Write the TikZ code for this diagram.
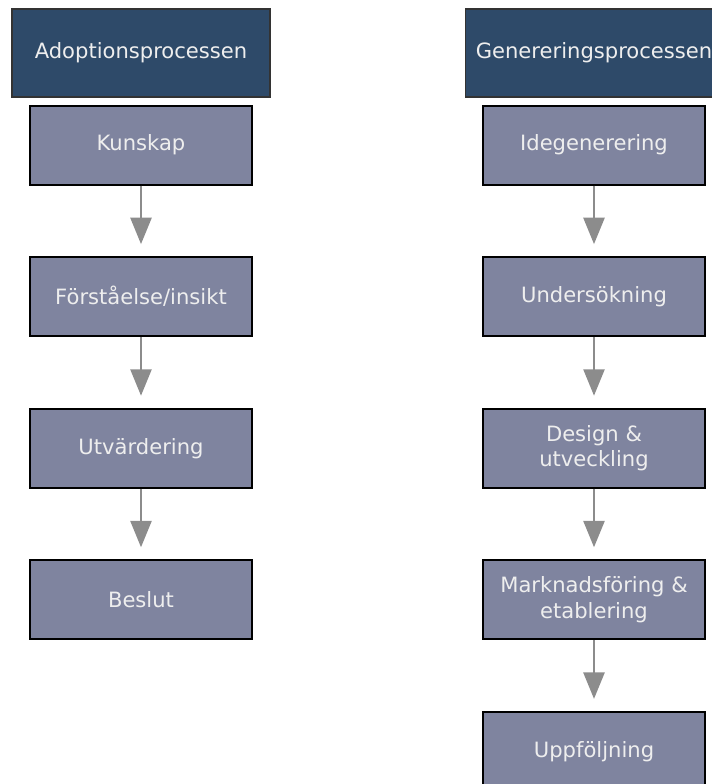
\documentclass[tikz,border=0pt]{standalone}
\usepackage{fontspec}
\setmainfont{DejaVu Sans}
\usetikzlibrary{arrows.meta,positioning}
\definecolor{hdr}{HTML}{2E4A69}
\definecolor{stage}{HTML}{7F849F}
\definecolor{arr}{HTML}{8C8C8C}
\definecolor{txt}{HTML}{EEEEEE}

\begin{document}
\begin{tikzpicture}[x=0.02cm, y=-0.02cm, node distance=1.41cm,
  h/.style={draw=black!80, line width=0.6pt, fill=hdr, text=txt, minimum width=5.16cm, minimum height=1.76cm,
    inner sep=0pt, font=\fontsize{12}{14.5}\selectfont},
  b/.style={draw=black, line width=1.2pt, fill=stage, text=txt, minimum width=4.44cm, minimum height=1.58cm,
    inner sep=0pt, align=center, font=\fontsize{12}{14.5}\selectfont},
  e/.style={-{Triangle[width=12pt,length=15pt]}, line width=1.2pt, draw=arr, shorten >=0.24cm}]
\useasboundingbox (0,0) rectangle (712,784);
\clip (0,0) rectangle (712,784);
% adoption column
\node[h] (adop) at (141,53) {Adoptionsprocessen};
\node[b, below=0.14cm of adop] (kun) {Kunskap};
\node[b, below=of kun] (forst) {Förståelse/insikt};
\node[b, below=of forst] (utv) {Utvärdering};
\node[b, below=of utv] (bes) {Beslut};
\draw[e] (kun) -- (forst); \draw[e] (forst) -- (utv); \draw[e] (utv) -- (bes);
% generation column
\node[h] (gen) at (594,53) {Genereringsprocessen};
\node[b, below=0.14cm of gen] (ide) {Idegenerering};
\node[b, below=of ide] (und) {Undersökning};
\node[b, below=of und] (des) {Design \&\\ utveckling};
\node[b, below=of des] (mark) {Marknadsföring \&\\ etablering};
\node[b, below=of mark] (upp) {Uppföljning};
\draw[e] (ide) -- (und); \draw[e] (und) -- (des); \draw[e] (des) -- (mark); \draw[e] (mark) -- (upp);
\end{tikzpicture}
\end{document}
